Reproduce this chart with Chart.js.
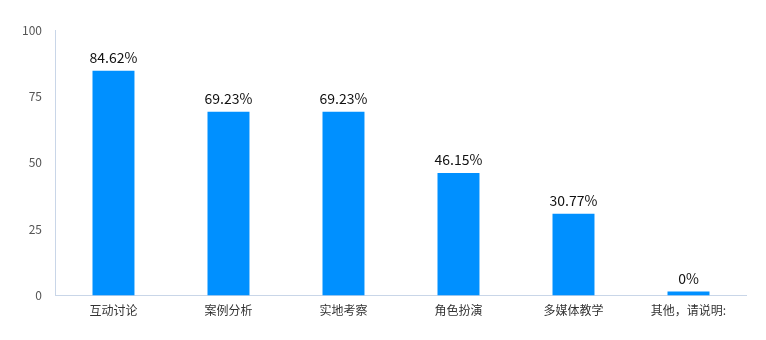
<!DOCTYPE html>
<html>
<head>
<meta charset="utf-8">
<script src="https://cdn.jsdelivr.net/npm/chart.js@4/dist/chart.umd.min.js"></script>
<style>
  html, body { margin: 0; padding: 0; background: #fff; }
  #wrap { width: 766px; height: 340px; }
</style>
</head>
<body>
<div id="wrap"><canvas id="c" width="766" height="340"></canvas></div>
<script>
const categories = ['互动讨论', '案例分析', '实地考察', '角色扮演', '多媒体教学', '其他，请说明:'];
const percentages = [84.62, 69.23, 69.23, 46.15, 30.77, 0];
const yTicks = [0, 25, 50, 75, 100];

const FONT = '"Noto Sans CJK SC", "Noto Sans", sans-serif';

// Draws each bar's percentage just above its top edge
const valueLabels = {
  id: 'valueLabels',
  afterDatasetsDraw(chart) {
    const ctx = chart.ctx;
    const meta = chart.getDatasetMeta(0);
    ctx.save();
    ctx.font = '14px ' + FONT;
    ctx.fillStyle = '#111';
    ctx.textAlign = 'center';
    ctx.textBaseline = 'bottom';
    meta.data.forEach((bar, i) => {
      ctx.fillText(percentages[i] + '%', bar.x, bar.y - 6);
    });
    ctx.restore();
  }
};

new Chart(document.getElementById('c'), {
  type: 'bar',
  data: {
    labels: categories,
    datasets: [{
      data: percentages,
      backgroundColor: '#0090ff',
      categoryPercentage: 1,
      barPercentage: 0.365,
      minBarLength: 4
    }]
  },
  options: {
    responsive: false,
    animation: false,
    layout: { padding: { top: 30, right: 20, left: 8, bottom: 14 } },
    plugins: { legend: { display: false }, tooltip: { enabled: false } },
    scales: {
      x: {
        grid: { display: false, drawTicks: false },
        border: { color: '#c9d6e8', width: 1 },
        ticks: { color: '#333', font: { family: FONT, size: 12 }, padding: 8, maxRotation: 0 }
      },
      y: {
        min: 0, max: 100,
        afterBuildTicks(axis) { axis.ticks = yTicks.map(v => ({ value: v })); },
        grid: { display: false, drawTicks: false },
        border: { color: '#c9d6e8', width: 1 },
        ticks: { color: '#555', font: { family: FONT, size: 12 }, padding: 14 }
      }
    }
  },
  plugins: [valueLabels]
});
</script>
</body>
</html>
